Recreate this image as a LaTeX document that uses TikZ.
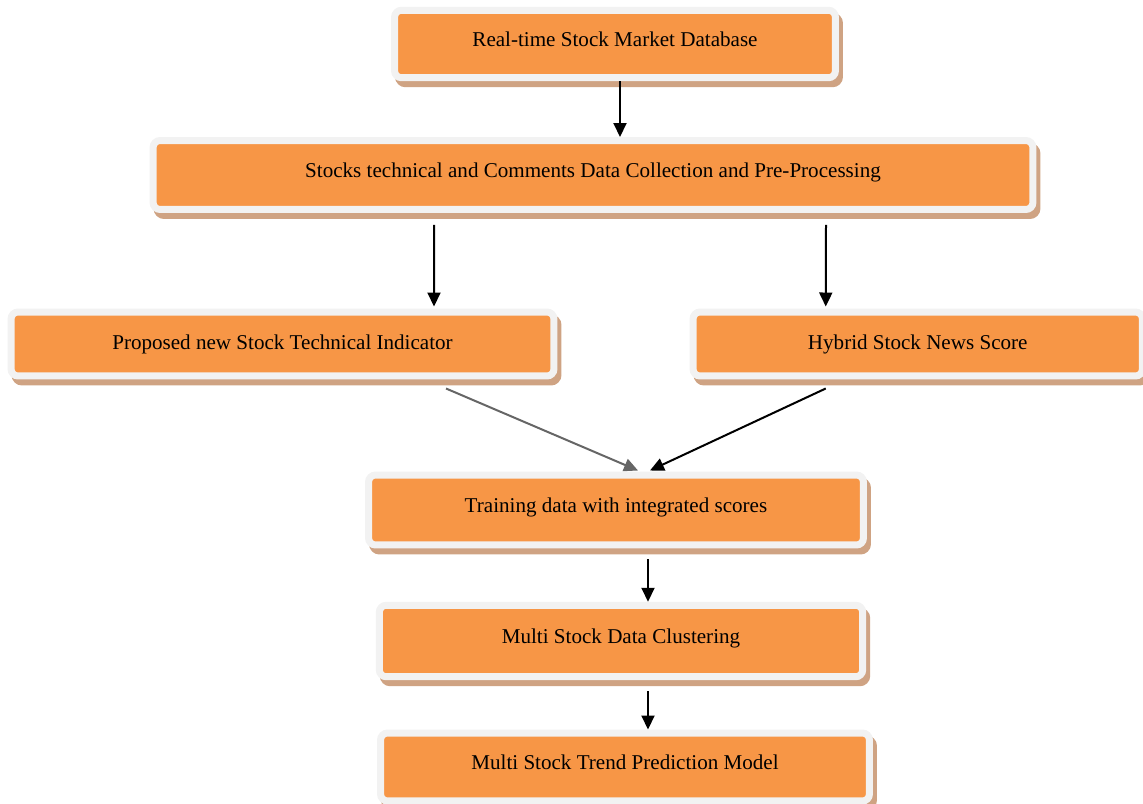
\documentclass[tikz,border=0pt]{standalone}
\usepackage{fontspec}
\setmainfont{Liberation Serif}
\usetikzlibrary{arrows.meta,calc}
\definecolor{boxorange}{HTML}{F79646}
\definecolor{boxrim}{HTML}{F2F2F2}
\definecolor{boxshadow}{HTML}{CFA383}
\definecolor{flowgray}{HTML}{666666}
\begin{document}
\begin{tikzpicture}[x=0.02cm, y=-0.02cm,
  stage/.style={draw=boxrim, fill=boxorange, line width=0.14cm, rounded corners=0.14cm,
    preaction={draw=boxshadow, fill=boxshadow, transform canvas={xshift=0.08cm, yshift=-0.12cm}},
    font=\fontsize{12}{14}\selectfont, text height=8pt, text depth=5pt, inner sep=0pt},
  flow/.style={black, line width=0.04cm, -{Triangle[length=0.28cm, width=0.26cm]}}]
\useasboundingbox (0,0) rectangle (1143,804);
\node[stage, minimum width=8.82cm, minimum height=1.35cm] (db) at (615,44) {Real-time Stock Market Database};
\node[stage, minimum width=17.6cm, minimum height=1.38cm] (prep) at (593,175) {Stocks technical and Comments Data Collection and Pre-Processing};
\node[stage, minimum width=10.86cm, minimum height=1.28cm, text depth=1.5pt] (ind) at (282.5,344) {Proposed new Stock Technical Indicator};
\node[stage, minimum width=8.99cm, minimum height=1.28cm, text depth=1.5pt] (news) at (917.75,344) {Hybrid Stock News Score};
\node[stage, minimum width=9.9cm, minimum height=1.4cm] (train) at (616,510) {Training data with integrated scores};
\node[stage, minimum width=9.67cm, minimum height=1.43cm] (clust) at (621,641) {Multi Stock Data Clustering};
\node[stage, minimum width=9.78cm, minimum height=1.36cm] (model) at (625,767) {Multi Stock Trend Prediction Model};
\draw[flow] ($(db.south)+(5,0)$) -- ($(prep.north)+(27,0)$);
\draw[flow] ($(prep.south)+(-159,12)$) -- ($(ind.north)+(151.5,-2)$);
\draw[flow] ($(prep.south)+(233,12)$) -- ($(news.north)+(-92,-2)$);
\draw[flow, flowgray] ($(ind.south)+(163.5,9)$) -- ($(train.north)+(22,-1)$);
\draw[flow] ($(news.south)+(-92,9)$) -- ($(train.north)+(34,-1)$);
\draw[flow] ($(train.south)+(32,11)$) -- ($(clust.north)+(27,0)$);
\draw[flow] ($(clust.south)+(27,11)$) -- ($(model.north)+(23,0)$);
\end{tikzpicture}
\end{document}
